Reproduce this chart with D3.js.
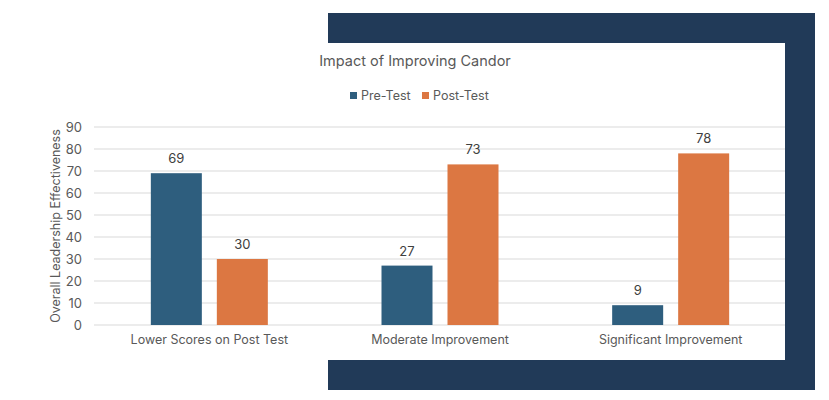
<!DOCTYPE html>
<html>
<head>
<meta charset="utf-8">
<script src="https://cdn.jsdelivr.net/npm/d3@7"></script>
<style>
  body { margin: 0; background: #fff; }
  svg { display: block; font-family: Inter, "Noto Sans", sans-serif; }
</style>
</head>
<body>
<script>
var categories = ["Lower Scores on Post Test", "Moderate Improvement", "Significant Improvement"];
var series = ["Pre-Test", "Post-Test"];
var preTest = [69, 27, 9];
var postTest = [30, 73, 78];
var yTicks = [0, 10, 20, 30, 40, 50, 60, 70, 80, 90];
var colors = ["#2e5e7e", "#dc7742"];

var width = 829, height = 400;
var plotLeft = 94, plotRight = 786, plotTop = 127, plotBottom = 325;

var svg = d3.select("body").append("svg")
  .attr("width", width)
  .attr("height", height);

// navy frame behind the chart
svg.append("rect")
  .attr("x", 328).attr("y", 13)
  .attr("width", 487).attr("height", 377)
  .attr("fill", "#213a58");

// white chart panel
svg.append("rect")
  .attr("x", 0).attr("y", 43)
  .attr("width", 785).attr("height", 317)
  .attr("fill", "#fff");

var x0 = d3.scaleBand().domain(categories).range([plotLeft, plotRight]);
var bw = x0.bandwidth();
var po = ((bw / 66) - 2 + 15 / 66) / 2;
var x1 = d3.scaleBand().domain(series).range([0, bw])
  .paddingInner(15 / 66).paddingOuter(po);
var y = d3.scaleLinear().domain([0, 90]).range([plotBottom, plotTop]);

// gridlines
svg.append("g").selectAll("line")
  .data(yTicks)
  .enter().append("line")
  .attr("x1", plotLeft).attr("x2", 785)
  .attr("y1", function(d) { return y(d); })
  .attr("y2", function(d) { return y(d); })
  .attr("stroke", "#d9d9d9")
  .attr("stroke-width", 1);

// y axis labels
var yAxis = d3.axisLeft(y).tickValues(yTicks).tickSize(0).tickPadding(0);
svg.append("g")
  .attr("transform", "translate(82,0)")
  .call(yAxis)
  .call(function(a) { a.select(".domain").remove(); })
  .selectAll("text")
  .attr("font-size", 13)
  .attr("font-family", "Inter, 'Noto Sans', sans-serif")
  .attr("fill", "#595959");

// y title
svg.append("text")
  .attr("transform", "translate(60,226) rotate(-90)")
  .attr("text-anchor", "middle")
  .attr("font-size", 12.5)
  .attr("fill", "#595959")
  .text("Overall Leadership Effectiveness");

// bars
var rows = categories.map(function(c, i) {
  return { cat: c, vals: [preTest[i], postTest[i]] };
});
var groups = svg.selectAll("g.cat")
  .data(rows)
  .enter().append("g")
  .attr("class", "cat")
  .attr("transform", function(d) { return "translate(" + x0(d.cat) + ",0)"; });

groups.selectAll("rect")
  .data(function(d) { return d.vals.map(function(v, j) { return { s: series[j], v: v, j: j }; }); })
  .enter().append("rect")
  .attr("x", function(d) { return x1(d.s); })
  .attr("width", x1.bandwidth())
  .attr("y", function(d) { return y(d.v); })
  .attr("height", function(d) { return plotBottom - y(d.v); })
  .attr("fill", function(d) { return colors[d.j]; });

groups.selectAll("text")
  .data(function(d) { return d.vals.map(function(v, j) { return { s: series[j], v: v }; }); })
  .enter().append("text")
  .attr("x", function(d) { return x1(d.s) + x1.bandwidth() / 2; })
  .attr("y", function(d) { return y(d.v) - 10; })
  .attr("text-anchor", "middle")
  .attr("font-size", 13)
  .attr("fill", "#404040")
  .text(function(d) { return d.v; });

// category labels
var xAxis = d3.axisBottom(x0).tickSize(0).tickPadding(0);
svg.append("g")
  .attr("transform", "translate(0,335)")
  .call(xAxis)
  .call(function(a) { a.select(".domain").remove(); })
  .selectAll("text")
  .attr("font-size", 12.5)
  .attr("font-family", "Inter, 'Noto Sans', sans-serif")
  .attr("fill", "#595959");

// title
svg.append("text")
  .attr("x", 415).attr("y", 66)
  .attr("text-anchor", "middle")
  .attr("font-size", 14.5)
  .attr("fill", "#595959")
  .text("Impact of Improving Candor");

// legend
var legX = [350, 422];
var leg = svg.selectAll("g.leg")
  .data(series)
  .enter().append("g")
  .attr("class", "leg")
  .attr("transform", function(d, i) { return "translate(" + legX[i] + ",92)"; });
leg.append("rect")
  .attr("width", 7).attr("height", 7)
  .attr("fill", function(d, i) { return colors[i]; });
leg.append("text")
  .attr("x", 11).attr("y", 8)
  .attr("font-size", 12.5)
  .attr("fill", "#595959")
  .text(function(d) { return d; });
</script>
</body>
</html>
